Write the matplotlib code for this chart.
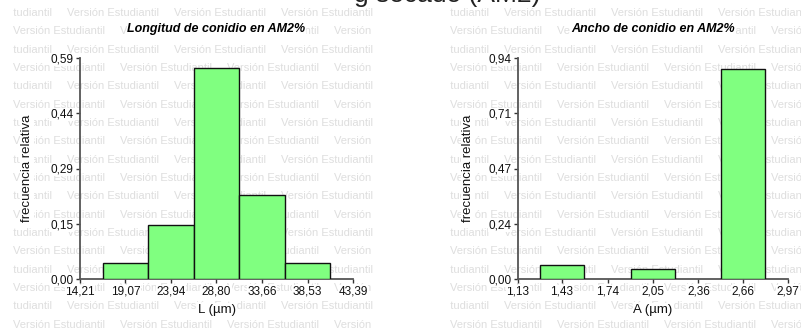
import matplotlib
matplotlib.use("Agg")
import matplotlib.pyplot as plt

# ---- data ----
L_ticks = [14.21, 19.07, 23.94, 28.80, 33.66, 38.53, 43.39]
L_tick_labels = ["14,21", "19,07", "23,94", "28,80", "33,66", "38,53", "43,39"]
L_centers = [19.07, 23.94, 28.80, 33.66, 38.53]
L_freq = [0.042, 0.145, 0.562, 0.224, 0.042]
L_yticks = [0.0, 0.1475, 0.295, 0.4425, 0.59]
L_ytick_labels = ["0,00", "0,15", "0,29", "0,44", "0,59"]

A_ticks = [1.13, 1.43, 1.74, 2.05, 2.36, 2.66, 2.97]
A_tick_labels = ["1,13", "1,43", "1,74", "2,05", "2,36", "2,66", "2,97"]
A_centers = [1.43, 2.05, 2.66]
A_freq = [0.061, 0.043, 0.894]
A_yticks = [0.0, 0.235, 0.47, 0.705, 0.94]
A_ytick_labels = ["0,00", "0,24", "0,47", "0,71", "0,94"]

plt.rcParams['font.family'] = ['Liberation Sans', 'DejaVu Sans']

W, H = 801, 333
fig = plt.figure(figsize=(W / 100, H / 100), dpi=100)

# ---- watermark ----
wm_color = '#dedede'
def watermark(x0, x1):
    ax = fig.add_axes([x0 / W, 0, (x1 - x0) / W, 1], zorder=0)
    ax.set_xlim(0, x1 - x0)
    ax.set_ylim(H, 0)
    ax.axis('off')
    for k in range(18):
        y = 13 + 18.33 * k
        off = -53 if k % 2 == 0 else 0
        for j in range(5):
            ax.text(off + 107 * j, y, "Versión Estudiantil", fontsize=8,
                    color=wm_color, va='center', ha='left', clip_on=True)

watermark(13, 373)
watermark(450, 801)

# ---- cut-off top title ----
fig.text(447 / W, 1 - 2 / H, "g secado (AM2)", fontsize=19, ha='center',
         va='baseline', color='#222222', zorder=5)

def panel(left_px, right_px, ticks, tlabels, centers, freq, yticks, ylabels,
          title, xlabel, ylab_x):
    ax = fig.add_axes([left_px / W, (H - 279) / H, (right_px - left_px) / W, 221 / H],
                      zorder=2)
    ax.set_facecolor('none')
    step = ticks[1] - ticks[0]
    ax.bar(centers, freq, width=step, color='#80ff80', edgecolor='#111111',
           linewidth=1.0, zorder=3)
    ax.set_xlim(ticks[0], ticks[-1])
    ax.set_ylim(0, yticks[-1])
    ax.set_xticks(ticks)
    ax.set_xticklabels(tlabels)
    ax.set_yticks(yticks)
    ax.set_yticklabels(ylabels)
    for s in ['top', 'right']:
        ax.spines[s].set_visible(False)
    for s in ['left', 'bottom']:
        ax.spines[s].set_color('#555555')
        ax.spines[s].set_linewidth(1.3)
    ax.tick_params(direction='out', length=3, width=1, color='#333333',
                   labelsize=8.5, pad=1.5, labelcolor='#111111')
    for lab in ax.get_xticklabels() + ax.get_yticklabels():
        lab.set_bbox(dict(facecolor='white', edgecolor='none', pad=0.3))
    cx = (left_px + right_px) / 2
    fig.text(cx / W, 1 - 29 / H, title, fontsize=9, fontweight='bold',
             style='italic', ha='center', va='center', zorder=5,
             bbox=dict(facecolor='white', edgecolor='none', pad=0.5))
    fig.text(cx / W, 1 - 310 / H, xlabel, fontsize=9.5, ha='center', va='center',
             zorder=5, color='#111111',
             bbox=dict(facecolor='white', edgecolor='none', pad=0.5))
    fig.text(ylab_x / W, 1 - 168 / H, "frecuencia relativa", fontsize=9.5,
             rotation=90, ha='center', va='center', zorder=5, color='#111111',
             bbox=dict(facecolor='white', edgecolor='none', pad=0.5))
    return ax

panel(80, 353, L_ticks, L_tick_labels, L_centers, L_freq, L_yticks, L_ytick_labels,
      "Longitud de conidio en AM2%", "L (µm)", 27)
panel(518, 788, A_ticks, A_tick_labels, A_centers, A_freq, A_yticks, A_ytick_labels,
      "Ancho de conidio en AM2%", "A (µm)", 468)

fig.savefig("out.png", dpi=100, facecolor='white')
